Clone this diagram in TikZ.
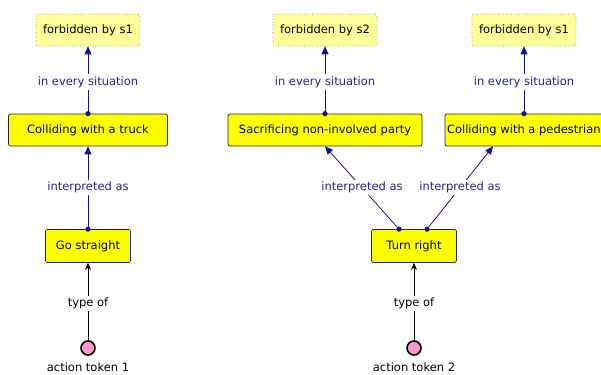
\documentclass[tikz,border=0pt]{standalone}
\usepackage{fontspec}
\setmainfont{DejaVu Sans}
\usetikzlibrary{arrows.meta}
\definecolor{navy}{RGB}{20,20,140}
\definecolor{labnavy}{RGB}{35,35,150}
\definecolor{boxyellow}{RGB}{255,255,0}
\definecolor{paleyellow}{RGB}{255,255,153}
\definecolor{tokenpink}{RGB}{255,153,204}
\tikzset{
  x=1bp, y=-1bp,
  every node/.style={font=\fontsize{11.5bp}{13bp}\selectfont, inner sep=0pt},
  concept/.style={draw=black!85, fill=boxyellow, rounded corners=2bp, line width=0.7bp, minimum height=32bp},
  forbid/.style={draw=black!50, dotted, fill=paleyellow, rounded corners=2bp, line width=0.6bp, minimum height=32bp, minimum width=104bp},
  token/.style={circle, draw=black, line width=1.6bp, fill=tokenpink, minimum size=14bp},
  rel/.style={draw=navy, line width=0.8bp, -{Triangle[length=8bp,width=7bp]}},
  rellab/.style={fill=white, text=labnavy, inner sep=2bp},
  typ/.style={draw=black, line width=0.8bp, -{Stealth[length=7bp,width=6bp]}},
  typlab/.style={fill=white, text=black, inner sep=2bp},
  startdot/.style={fill=navy}
}
\begin{document}
\begin{tikzpicture}
\useasboundingbox (0,0) rectangle (601,374);
% left column
\node[forbid] (f1) at (88,30) {forbidden by s1};
\node[concept, minimum width=159bp] (truck) at (88,130) {Colliding with a truck};
\node[concept, minimum width=85bp, minimum height=33bp] (gs) at (88,246) {Go straight};
\node[token] (t1) at (88,348) {};
\node (t1l) at (88,367) {action token 1};
% middle / right
\node[forbid] (f2) at (325,30) {forbidden by s2};
\node[forbid] (f3) at (524,30) {forbidden by s1};
\node[concept, minimum width=194bp] (sac) at (325,130) {Sacrificing non-involved party};
\node[concept, minimum width=158bp] (ped) at (524,130) {\makebox[154bp][l]{Colliding with a pedestrian}};
\node[concept, minimum width=85bp, minimum height=33bp] (tr) at (414,246) {Turn right};
\node[token] (t2) at (414,348) {};
\node (t2l) at (414,367) {action token 2};
% relations
\draw[rel] (truck.north) -- node[rellab, pos=0.47] {in every situation} (f1.south);
\fill[startdot] (truck.north) circle (2.6bp);
\draw[rel] (sac.north) -- node[rellab, pos=0.47] {in every situation} (f2.south);
\fill[startdot] (sac.north) circle (2.6bp);
\draw[rel] (ped.north) -- node[rellab, pos=0.47] {in every situation} (f3.south);
\fill[startdot] (ped.north) circle (2.6bp);
\draw[rel] (gs.north) -- node[rellab] {interpreted as} (truck.south);
\fill[startdot] (gs.north) circle (2.6bp);
\coordinate (trl) at ([xshift=-15bp]tr.north);
\coordinate (trr) at ([xshift=13bp]tr.north);
\draw[rel] (trl) -- node[rellab, pos=0.5] {interpreted as} (sac.south);
\fill[startdot] (trl) circle (2.6bp);
\draw[rel] (trr) -- node[rellab] {interpreted as} ([xshift=-31bp]ped.south);
\fill[startdot] (trr) circle (2.6bp);
% type of
\draw[typ] (t1) -- node[typlab, pos=0.48] {type of} (gs);
\draw[typ] (t2) -- node[typlab, pos=0.48] {type of} (tr);
\end{tikzpicture}
\end{document}
